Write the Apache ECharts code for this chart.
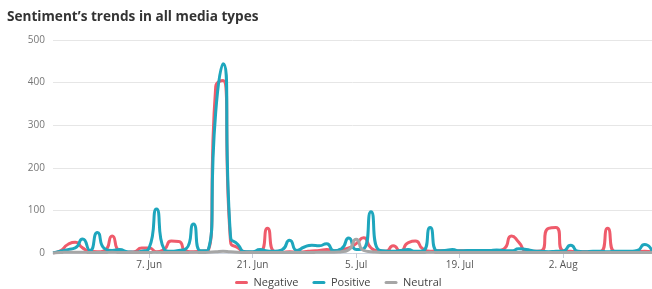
<!DOCTYPE html>
<html>
<head>
<meta charset="utf-8">
<script src="https://cdn.jsdelivr.net/npm/echarts@6/dist/echarts.min.js"></script>
<style>
html,body{margin:0;padding:0;background:#fff;}
#c{width:652px;height:289px;}
</style>
</head>
<body>
<div id="c"></div>
<script>
const titleText = "Sentiment\u2019s trends in all media types";
const categories = [
"25. May","26. May","27. May","28. May","29. May","30. May","31. May",
"1. Jun","2. Jun","3. Jun","4. Jun","5. Jun","6. Jun","7. Jun","8. Jun","9. Jun","10. Jun",
"11. Jun","12. Jun","13. Jun","14. Jun","15. Jun","16. Jun","17. Jun","18. Jun","19. Jun","20. Jun",
"21. Jun","22. Jun","23. Jun","24. Jun","25. Jun","26. Jun","27. Jun","28. Jun","29. Jun","30. Jun",
"1. Jul","2. Jul","3. Jul","4. Jul","5. Jul","6. Jul","7. Jul","8. Jul","9. Jul","10. Jul",
"11. Jul","12. Jul","13. Jul","14. Jul","15. Jul","16. Jul","17. Jul","18. Jul","19. Jul","20. Jul",
"21. Jul","22. Jul","23. Jul","24. Jul","25. Jul","26. Jul","27. Jul","28. Jul","29. Jul","30. Jul","31. Jul",
"1. Aug","2. Aug","3. Aug","4. Aug","5. Aug","6. Aug","7. Aug","8. Aug","9. Aug","10. Aug",
"11. Aug","12. Aug","13. Aug","14. Aug"
];
const tickLabels = ["7. Jun","21. Jun","5. Jul","19. Jul","2. Aug"];
const yTicks = [0,100,200,300,400,500];
const negative = [
0,5,20,25,12,4,3,6,40,5,
2,3,12,12,3,8,28,27,4,3,
4,6,390,405,28,12,3,2,3,58,
3,2,3,2,3,5,6,8,5,8,
12,22,36,12,5,4,17,4,24,28,
10,4,5,5,4,5,5,5,5,4,
5,10,40,25,5,4,5,58,60,5,
4,3,3,3,3,58,3,3,3,3,
4,3
];
const positive = [
0,4,8,12,33,6,48,10,6,8,
3,2,4,12,103,10,4,6,10,68,
5,8,330,444,40,20,3,3,8,5,
4,8,30,6,14,18,17,22,5,10,
35,8,10,97,8,5,4,6,8,4,
5,60,5,6,8,5,6,6,6,6,
7,6,5,10,8,5,4,3,4,5,
18,4,3,4,4,3,4,4,4,6,
20,5
];
const neutral = [
0,1,2,2,2,1,1,1,2,1,
1,1,1,1,2,1,1,1,1,2,
1,2,3,4,3,2,1,1,1,1,
1,1,1,1,1,1,2,2,2,3,
8,32,6,3,2,1,1,1,1,1,
1,2,1,1,1,1,1,1,1,1,
1,1,1,1,1,1,1,1,1,1,
1,1,1,1,1,1,1,1,1,1,
1,1
];

const chart = echarts.init(document.getElementById('c'), null, {renderer:'canvas'});
const showIdx = categories.map(c => tickLabels.indexOf(c) >= 0);
const lineIcon = 'path://M2,0 L12,0 A1.5,1.5 0 0 1 12,3 L2,3 A1.5,1.5 0 0 1 2,0 Z';
chart.setOption({
  animation:false,
  backgroundColor:'#fff',
  title:{
    text:titleText, left:2, top:5,
    textStyle:{fontFamily:'Open Sans', fontWeight:'bold', fontSize:13.6, color:'#333'}
  },
  grid:{left:53, right:0, top:40, bottom:36, containLabel:false},
  legend:{
    top:272, left:230, itemGap:14, itemWidth:14, itemHeight:3,
    icon:lineIcon,
    textStyle:{fontFamily:'Open Sans', fontSize:11, color:'#444'},
    data:['Negative','Positive','Neutral']
  },
  xAxis:{
    type:'category', data:categories, boundaryGap:false,
    axisLine:{show:true, lineStyle:{color:'#d0d6e0', width:1}},
    axisTick:{show:true, alignWithLabel:true, length:5, interval:(i)=>showIdx[i], lineStyle:{color:'#c8ced8'}},
    axisLabel:{interval:(i)=>showIdx[i], margin:7, fontFamily:'Open Sans', fontSize:10, color:'#555'},
    splitLine:{show:false}
  },
  yAxis:{
    type:'value', min:yTicks[0], max:yTicks[yTicks.length-1], interval:100,
    axisLine:{show:false}, axisTick:{show:false},
    axisLabel:{margin:8, fontFamily:'Open Sans', fontSize:10, color:'#777'},
    splitLine:{lineStyle:{color:'#e6e6e6', width:1}}
  },
  series:[
    {name:'Negative', type:'line', data:negative, smooth:0.65, showSymbol:false,
     itemStyle:{color:'#ef5b6b'}, lineStyle:{width:3, color:'#ef5b6b'}},
    {name:'Positive', type:'line', data:positive, smooth:0.65, showSymbol:false,
     itemStyle:{color:'#1ea6bd'}, lineStyle:{width:3, color:'#1ea6bd'}},
    {name:'Neutral', type:'line', data:neutral, smooth:0.65, showSymbol:false,
     itemStyle:{color:'#a6a6a6'}, lineStyle:{width:3, color:'#a6a6a6'}}
  ]
});
</script>
</body>
</html>
